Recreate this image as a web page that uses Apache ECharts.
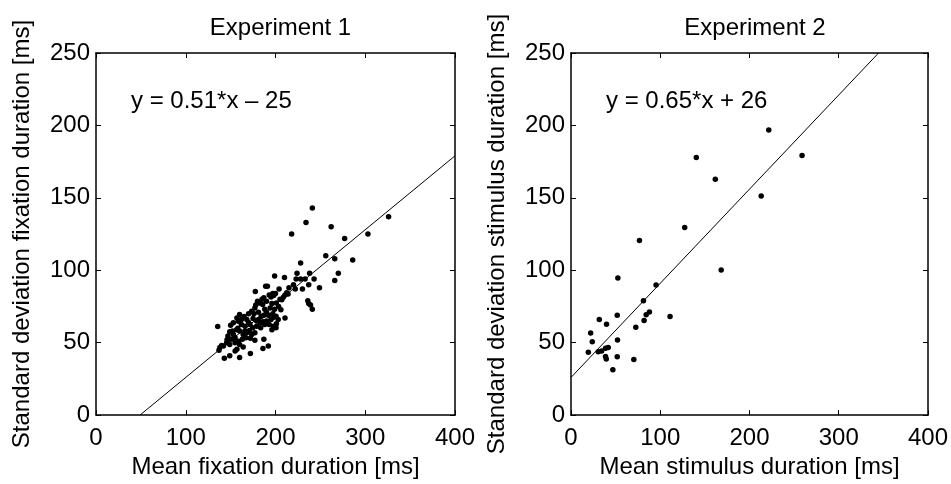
<!DOCTYPE html>
<html>
<head>
<meta charset="utf-8">
<script src="https://cdn.jsdelivr.net/npm/echarts@6/dist/echarts.min.js"></script>
<style>
html,body{margin:0;padding:0;background:#fff;}
#chart{width:951px;height:484px;}
</style>
</head>
<body>
<div id="chart"></div>
<script>
var titles = ['Experiment 1', 'Experiment 2'];
var xNames = ['Mean fixation duration [ms]', 'Mean stimulus duration [ms]'];
var yNames = ['Standard deviation fixation duration [ms]', 'Standard deviation stimulus duration [ms]'];
var fitLabels = ['y = 0.51*x \u2013 25', 'y = 0.65*x + 26'];
var fitSlopes = [0.51, 0.65];
var fitIntercepts = [-25, 26];
var xTicks = [0, 100, 200, 300, 400];
var yTicks = [0, 50, 100, 150, 200, 250];

var exp1Points = [
  [241,143],[234,133],[262,130],[218,125],[277,122],[286,107],[256,110],[266,108],[228,105],
  [224,98],[238,98],[270,98],[210,95],[199,96],[223,94],[228,94],[233,94],[243,94],[266,93],
  [237,90],[249,88],[230,87],[222,87],[236,79],[237,77],[239,76],[241,73],[303,125],[326,137],
  [189,89],[191,89],[177.5,85.4],[204,87],[212.5,84.5],[214,83.6],[210.6,83],[208.7,81.3],[207,79.7],
  [193,83],[197,84],[198,82.6],[195,81.5],[187,81],[190,78.6],[182,77.4],[180,78.6],[201,77.4],
  [203.5,75],[206,72.8],[185.7,76.3],[177,74],[173.5,71.7],[181,71],[170,70],[190,71],[192,69],
  [197,70],[200.6,68.3],[160,69.4],[157,67],[165,68],[168,66],[175,66.7],[179,65],[183,63.7],
  [186,64.4],[190,65],[195,66],[198,67.6],[203,66],[210.6,67],[153,63.7],[158.6,64.8],[162,62.6],
  [166,61.4],[171.6,62.6],[174.6,60.3],[179,61.4],[183.5,60.3],[188,62.6],[193,62.6],[197.6,61.4],
  [201,63],[135.6,61.2],[149,57.5],[153,55.7],[156.7,59],[160,58],[164,55.7],[168,56.8],[173.5,55.7],
  [177,56.8],[171,58.4],[147,54.6],[151,52.3],[155,53.4],[158.6,51],[163,52.3],[167,53.4],[172,53],
  [145.6,50],[138,46.6],[137,44.7],[142,47.7],[149,48.8],[155,50],[160,48.8],[164,47],[157,45.4],
  [155,44.2],[177,51.6],[187,52.3],[196,59],[200.6,60.3],[143,39.3],[149,41],[160,39.7],[172,42.5],
  [186,46],[192,47.7],[176,70],[184,68],[188,73],[194,74],[170,64],[166,58],[181,66],[187,69],
  [196,77],[162,66],[158,60],[152,58],[146,52],[140,48],[150,62],[199,73],[205,80],[200,84],
  [215,88],[220,90],[185,80],[178,76]
];

var exp2Points = [
  [221.6,196.8],[258.9,179.2],[140.4,177.9],[161.7,162.8],[213.1,151.2],[127.4,129.5],[76.7,120.5],
  [168.3,100.2],[52.5,94.7],[95.3,89.9],[81.2,79.0],[51.8,69.0],[111,68.0],[87.9,71.2],[84.2,69.2],
  [81.9,65.3],[31.7,66],[39.8,62.8],[72.6,60.7],[22,56.6],[23.8,50.7],[52.1,51.8],[19.4,43.4],
  [30.5,43.8],[34.3,44.3],[38.7,46.1],[41.7,46.6],[38.7,40.4],[39.5,38.8],[51.8,40.2],[70.4,38.4],
  [46.9,31.3]
];

var pointSets = [exp1Points, exp2Points];
var FONT = '"Liberation Sans", Arial, Helvetica, sans-serif';
var grids = [
  {left: 96, top: 53, width: 359, height: 365},
  {left: 571, top: 53, width: 358, height: 365}
];

var xMin = xTicks[0], xMax = xTicks[xTicks.length - 1];
var yMin = yTicks[0], yMax = yTicks[yTicks.length - 1];
var lineStyle = {color: '#000', width: 1.5};

function fitLine(i) {
  var a = fitSlopes[i], b = fitIntercepts[i];
  var x0 = Math.max(xMin, (yMin - b) / a);
  var x1 = Math.min(xMax, (yMax - b) / a);
  return [[x0, a * x0 + b], [x1, a * x1 + b]];
}

var xAxes = [], yAxes = [], series = [], titleArr = [], graphics = [];
for (var g = 0; g < 2; g++) {
  var base = {
    gridIndex: g, type: 'value', min: xMin, max: xMax, interval: xTicks[1] - xTicks[0],
    splitLine: {show: false},
    axisLine: {show: true, onZero: false, lineStyle: lineStyle},
    axisTick: {show: true, inside: true, length: 5, lineStyle: {color: '#000', width: 1}}
  };
  xAxes.push(Object.assign({}, base, {
    position: 'bottom',
    axisLabel: {show: true, color: '#000', fontSize: 24, fontFamily: FONT, margin: 11, showMinLabel: true, showMaxLabel: true},
    name: xNames[g], nameLocation: 'middle', nameGap: 37,
    nameTextStyle: {color: '#000', fontSize: 24, fontFamily: FONT}
  }));
  xAxes.push(Object.assign({}, base, {position: 'top', axisLabel: {show: false}}));
  var ybase = {
    gridIndex: g, type: 'value', min: yMin, max: yMax, interval: yTicks[1] - yTicks[0],
    splitLine: {show: false},
    axisLine: {show: true, onZero: false, lineStyle: lineStyle},
    axisTick: {show: true, inside: true, length: 5, lineStyle: {color: '#000', width: 1}}
  };
  yAxes.push(Object.assign({}, ybase, {
    position: 'left',
    axisLabel: {show: true, color: '#000', fontSize: 24, fontFamily: FONT, margin: 6, showMinLabel: true, showMaxLabel: true},
    name: yNames[g], nameLocation: 'middle', nameGap: 62,
    nameTextStyle: {color: '#000', fontSize: 24, fontFamily: FONT}
  }));
  yAxes.push(Object.assign({}, ybase, {position: 'right', axisLabel: {show: false}}));

  series.push({
    type: 'scatter', xAxisIndex: 2 * g, yAxisIndex: 2 * g,
    data: pointSets[g], symbol: 'circle', symbolSize: 5.5,
    itemStyle: {color: '#000', opacity: 1}, silent: true
  });
  series.push({
    type: 'line', xAxisIndex: 2 * g, yAxisIndex: 2 * g,
    data: fitLine(g), showSymbol: false, symbol: 'none',
    lineStyle: {color: '#000', width: 1}, silent: true, clip: true
  });
  titleArr.push({
    text: titles[g],
    left: grids[g].left + grids[g].width / 2, top: 11, textAlign: 'center',
    textStyle: {color: '#000', fontSize: 24, fontWeight: 'normal', fontFamily: FONT}
  });
  graphics.push({
    type: 'text', left: grids[g].left + 35, top: 89,
    style: {text: fitLabels[g], fill: '#000', font: '24px ' + FONT}
  });
}

var chart = echarts.init(document.getElementById('chart'), null, {renderer: 'canvas'});
chart.setOption({
  animation: false,
  backgroundColor: '#fff',
  title: titleArr,
  grid: grids,
  xAxis: xAxes,
  yAxis: yAxes,
  series: series,
  graphic: graphics
});
</script>
</body>
</html>
